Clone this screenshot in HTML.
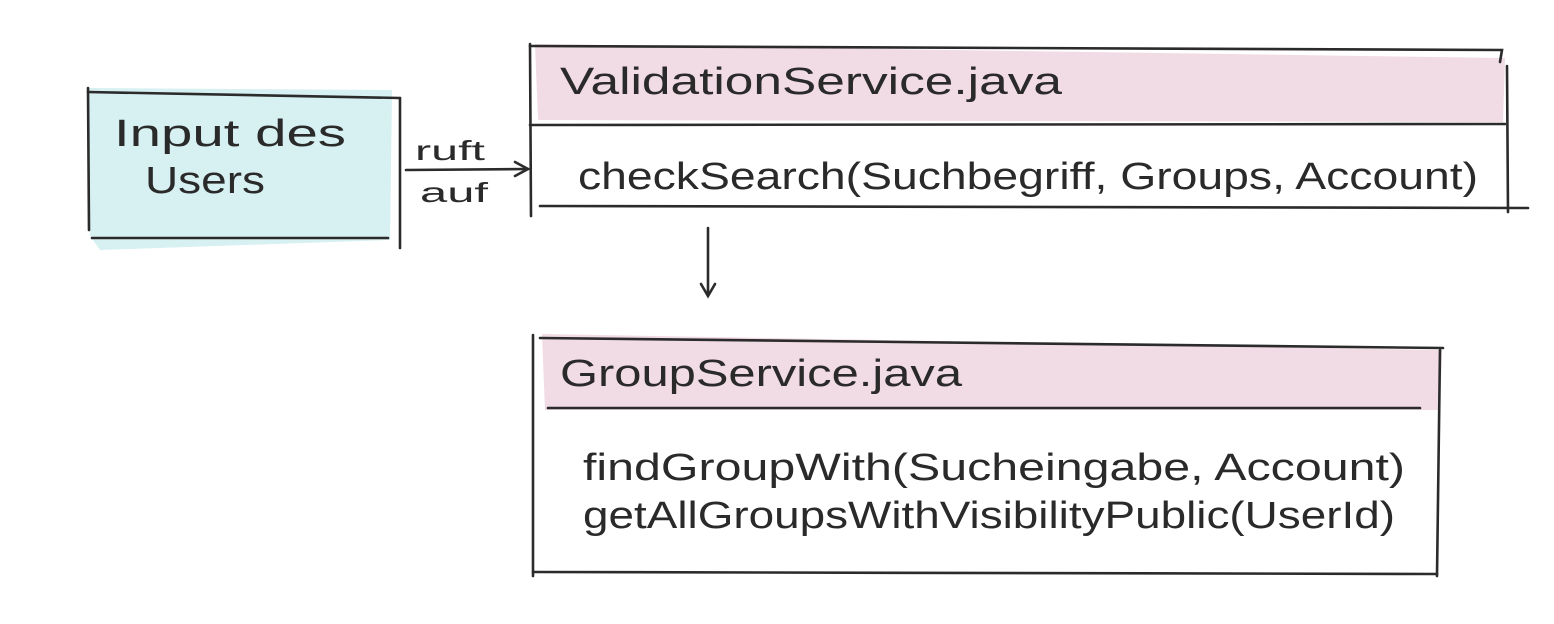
<!DOCTYPE html>
<html><head><meta charset="utf-8"><style>
html,body{margin:0;padding:0;background:#fff;}
svg{display:block;}
text{font-family:"Liberation Sans","DejaVu Sans",sans-serif;fill:#2a2a2a;font-weight:normal;}
</style></head><body>
<svg width="1554" height="624" viewBox="0 0 1554 624" xmlns="http://www.w3.org/2000/svg">
<g stroke="none">
<path d="M88,88 L392,90 L390,240 L100,250 L90,236 Z" fill="#d7f0f2"/>
<path d="M535,44 L1505,58 L1503,122 L538,120 Z" fill="#f1dbe4"/>
<path d="M542,334 L1442,350 L1440,410 L545,410 Z" fill="#f1dbe4"/>
</g>
<g stroke="#2b2b2b" stroke-width="2.6" fill="none" stroke-linecap="round">
<!-- input box -->
<path d="M88,92 L400,98"/>
<path d="M88,88 L89,230"/>
<path d="M400,98 L400,248"/>
<path d="M92,238 L388,238"/>
<!-- arrow right -->
<path d="M406,170 L528,169"/>
<path d="M515,162 L528,169 L515,176"/>
<!-- validation box -->
<path d="M530,46 L1502,50 L1500,62"/>
<path d="M530,44 L531,216"/>
<path d="M1507,66 L1508,212"/>
<path d="M530,125 L1505,124"/>
<path d="M540,206 L1528,208"/>
<!-- arrow down -->
<path d="M708,228 L708,295"/>
<path d="M701,284 L708,296 L715,284"/>
<!-- group box -->
<path d="M540,338 L1443,348"/>
<path d="M533,335 L533,576"/>
<path d="M1440,350 L1437,576"/>
<path d="M548,408 L1420,408"/>
<path d="M533,572 L1437,574"/>
</g>
<g font-size="38">
<text x="114" y="146" textLength="232" lengthAdjust="spacingAndGlyphs">Input des</text>
<text x="145" y="193" textLength="120" lengthAdjust="spacingAndGlyphs">Users</text>
<text x="415" y="160" font-size="28" textLength="70" lengthAdjust="spacingAndGlyphs">ruft</text>
<text x="420" y="202" font-size="28" textLength="68" lengthAdjust="spacingAndGlyphs">auf</text>
<text x="560" y="94" textLength="502" lengthAdjust="spacingAndGlyphs">ValidationService.java</text>
<text x="578" y="189" textLength="900" lengthAdjust="spacingAndGlyphs">checkSearch(Suchbegriff, Groups, Account)</text>
<text x="560" y="386" textLength="402" lengthAdjust="spacingAndGlyphs">GroupService.java</text>
<text x="583" y="480" textLength="822" lengthAdjust="spacingAndGlyphs">findGroupWith(Sucheingabe, Account)</text>
<text x="583" y="528" textLength="812" lengthAdjust="spacingAndGlyphs">getAllGroupsWithVisibilityPublic(UserId)</text>
</g>
</svg>
</body></html>
